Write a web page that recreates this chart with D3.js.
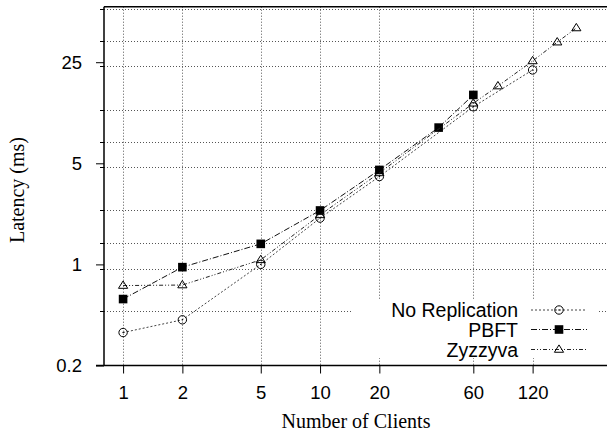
<!DOCTYPE html>
<html>
<head>
<meta charset="utf-8">
<script src="https://cdn.jsdelivr.net/npm/d3@7"></script>
<style>
  html, body { margin: 0; padding: 0; background: #fff; }
  svg { display: block; }
</style>
</head>
<body>
<svg id="chart" width="607" height="436"></svg>
<script>
// ---- data ----
const noRepX = [1, 2, 5, 10, 20, 60, 120];
const noRepY = [0.338, 0.414, 1.0, 2.09, 4.05, 12.3, 22.1];
const pbftX = [1, 2, 5, 10, 20, 40, 60];
const pbftY = [0.576, 0.957, 1.387, 2.36, 4.5, 8.83, 14.85];
const zyzX = [1, 2, 5, 10, 20, 60, 80, 120, 160, 200];
const zyzY = [0.714, 0.72, 1.075, 2.2, 4.29, 13.0, 17.1, 25.5, 34.4, 43.1];
const xTicks = [1, 2, 5, 10, 20, 60, 120];
const yTicks = [0.2, 1, 5, 25];
const yTickLabels = ["0.2", "1", "5", "25"];
const yGrid = [0.475, 0.936, 1.416, 2.36, 4.70, 7.0, 11.7, 23.6, 34.9, 58.4];
const seriesNames = ["No Replication", "PBFT", "Zyzzyva"];

// ---- layout ----
const svg = d3.select("#chart");
const pLeft = 104, pRight = 611, pTop = 6.7, pBottom = 365.5;
const x = d3.scaleLog().domain([0.8, 300]).range([pLeft, pRight]);
const y = d3.scaleLog().domain([0.2, 60.5]).range([pBottom, pTop]);

const tickFont = "'Liberation Sans', Arial, Helvetica, sans-serif";
const serif = "'Liberation Serif', 'Times New Roman', Times, serif";

// grid
const grid = svg.append("g").attr("stroke", "#555").attr("stroke-width", 1)
  .attr("stroke-dasharray", "1,2").attr("fill", "none");
yGrid.forEach(v => {
  grid.append("line").attr("x1", pLeft).attr("x2", 607)
    .attr("y1", Math.round(y(v)) + 0.5).attr("y2", Math.round(y(v)) + 0.5);
});
xTicks.forEach(v => {
  grid.append("line").attr("x1", Math.round(x(v)) + 0.5).attr("x2", Math.round(x(v)) + 0.5)
    .attr("y1", pTop).attr("y2", pBottom);
});

// minor y ticks
const minor = svg.append("g").attr("stroke", "#000").attr("stroke-width", 1);
yGrid.forEach(v => {
  minor.append("line").attr("x1", pLeft - 4).attr("x2", pLeft)
    .attr("y1", Math.round(y(v)) + 0.5).attr("y2", Math.round(y(v)) + 0.5);
});

// axes
const xAxis = d3.axisBottom(x).tickValues(xTicks).tickFormat(d3.format("d"))
  .tickSizeInner(8).tickSizeOuter(0).tickPadding(12);
const gx = svg.append("g").attr("transform", `translate(0,${pBottom})`).call(xAxis);
gx.select(".domain").remove();
gx.selectAll("line").attr("stroke", "#000");
gx.selectAll("text").attr("font-family", tickFont).attr("font-size", "18.5px").attr("fill", "#000");

const yAxis = d3.axisLeft(y).tickValues(yTicks).tickFormat((d, i) => yTickLabels[i])
  .tickSizeInner(8).tickSizeOuter(0).tickPadding(14);
const gy = svg.append("g").attr("transform", `translate(${pLeft},0)`).call(yAxis);
gy.select(".domain").remove();
gy.selectAll("line").attr("stroke", "#000");
gy.selectAll("text").attr("font-family", tickFont).attr("font-size", "18.5px").attr("fill", "#000");

// frame: left, bottom, top
svg.append("line").attr("x1", pLeft).attr("x2", pLeft).attr("y1", pTop).attr("y2", pBottom)
  .attr("stroke", "#000").attr("stroke-width", 1.5);
svg.append("line").attr("x1", pLeft - 8).attr("x2", 607).attr("y1", pBottom).attr("y2", pBottom)
  .attr("stroke", "#000").attr("stroke-width", 1.5);
svg.append("line").attr("x1", pLeft).attr("x2", 607).attr("y1", pTop).attr("y2", pTop)
  .attr("stroke", "#000").attr("stroke-width", 1.5);

// axis titles
svg.append("text").attr("x", 356).attr("y", 428).attr("text-anchor", "middle")
  .attr("font-family", serif).attr("font-size", "20px").text("Number of Clients");
svg.append("text").attr("transform", "translate(24,190) rotate(-90)").attr("text-anchor", "middle")
  .attr("font-family", serif).attr("font-size", "20px").text("Latency (ms)");

// legend background
const legX = 353, legY = 300, legW = 245, legH = 58;
svg.append("rect").attr("x", legX).attr("y", legY).attr("width", legW).attr("height", legH).attr("fill", "#fff");

// series
const series = [
  { name: seriesNames[0], xs: noRepX, ys: noRepY, dash: "2,2", color: "#444", marker: "circle" },
  { name: seriesNames[1], xs: pbftX, ys: pbftY, dash: "6,2,1,2", color: "#111", marker: "square" },
  { name: seriesNames[2], xs: zyzX, ys: zyzY, dash: "4,2,1,2,1,2", color: "#222", marker: "triangle" }
];
const line = d3.line().x(d => x(d[0])).y(d => y(d[1]));

function drawMarker(g, type, cx, cy) {
  if (type === "circle") {
    g.append("circle").attr("cx", cx).attr("cy", cy).attr("r", 4.2)
      .attr("fill", "none").attr("stroke", "#000").attr("stroke-width", 1);
    g.append("circle").attr("cx", cx).attr("cy", cy).attr("r", 0.7).attr("fill", "#000");
  } else if (type === "square") {
    g.append("rect").attr("x", cx - 4.3).attr("y", cy - 4.3).attr("width", 8.6).attr("height", 8.6).attr("fill", "#000");
  } else {
    const s = 4.6;
    g.append("path").attr("d", `M${cx},${cy - s} L${cx + s},${cy + s * 0.6} L${cx - s},${cy + s * 0.6} Z`)
      .attr("fill", "none").attr("stroke", "#000").attr("stroke-width", 1);
  }
}

series.forEach(s => {
  const pts = s.xs.map((v, i) => [v, s.ys[i]]);
  svg.append("path").datum(pts).attr("d", line).attr("fill", "none")
    .attr("stroke", s.color).attr("stroke-width", 1).attr("stroke-dasharray", s.dash);
  const g = svg.append("g");
  pts.forEach(p => drawMarker(g, s.marker, x(p[0]), y(p[1])));
});

// legend
const legRows = [310, 329.5, 349.5];
series.forEach((s, i) => {
  const cy = legRows[i];
  svg.append("text").attr("x", 518).attr("y", cy + 7).attr("text-anchor", "end")
    .attr("font-family", tickFont).attr("font-size", "19.5px").text(s.name);
  svg.append("line").attr("x1", 531).attr("x2", 587).attr("y1", cy).attr("y2", cy)
    .attr("stroke", s.color).attr("stroke-width", 1).attr("stroke-dasharray", s.dash);
  drawMarker(svg.append("g"), s.marker, 559, cy);
});
</script>
</body>
</html>
